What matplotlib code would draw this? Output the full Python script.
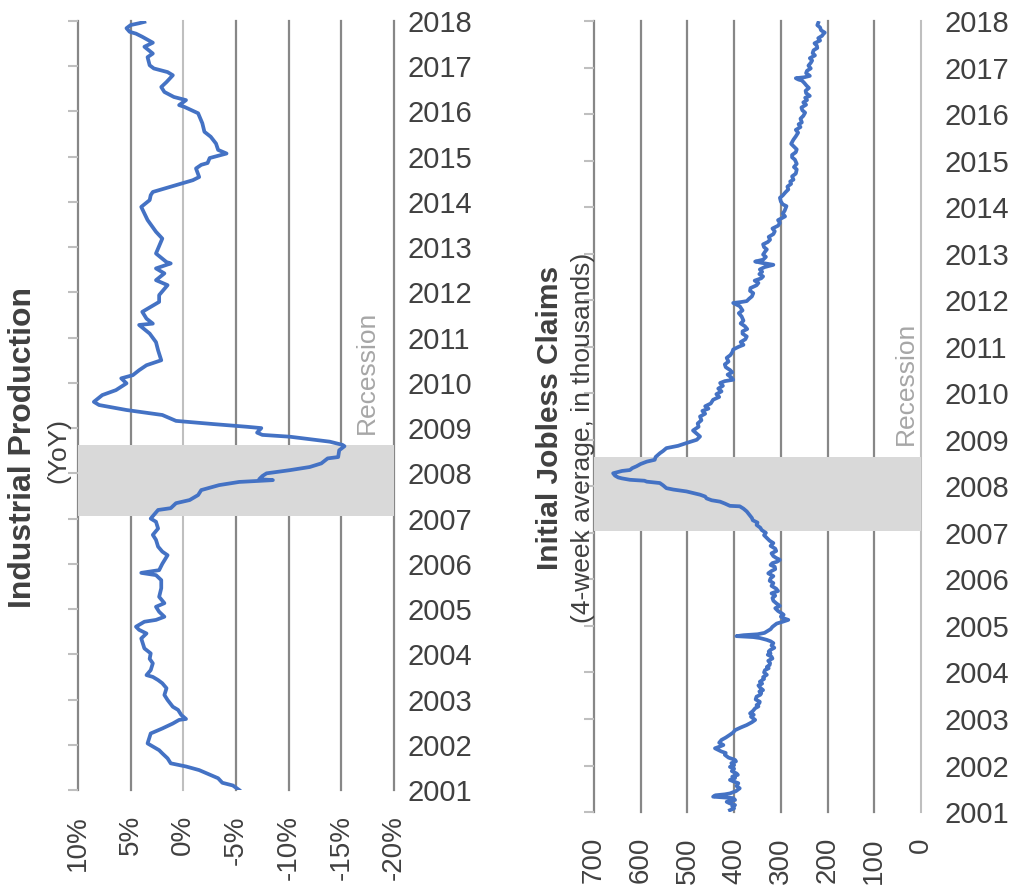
import matplotlib
matplotlib.use("Agg")
import matplotlib.pyplot as plt

plt.rcParams['font.family'] = ['Liberation Sans', 'DejaVu Sans']

# Industrial production, year-over-year % change
ip_year = [2001.0, 2001.1, 2001.16, 2001.26, 2001.33, 2001.44, 2001.52, 2001.59, 2001.7, 2001.81,
           2001.88, 2001.99, 2002.03, 2002.25, 2002.36, 2002.47, 2002.55, 2002.57, 2002.66, 2002.77,
           2002.84, 2002.99, 2003.1, 2003.25, 2003.36, 2003.43, 2003.5, 2003.54, 2003.65, 2003.8,
           2003.9, 2004.02, 2004.13, 2004.35, 2004.46, 2004.54, 2004.61, 2004.72, 2004.76, 2004.83,
           2004.94, 2005.05, 2005.13, 2005.27, 2005.46, 2005.64, 2005.75, 2005.8, 2005.86, 2006.0,
           2006.19, 2006.27, 2006.38, 2006.53, 2006.64, 2006.78, 2006.93, 2007.0, 2007.19, 2007.23,
           2007.34, 2007.41, 2007.52, 2007.63, 2007.74, 2007.81, 2007.85, 2007.87, 2007.94, 2008.0,
           2008.07, 2008.14, 2008.22, 2008.33, 2008.36, 2008.51, 2008.6, 2008.63, 2008.7, 2008.81,
           2008.85, 2008.9, 2009.0, 2009.03, 2009.09, 2009.16, 2009.29, 2009.4, 2009.51, 2009.58,
           2009.73, 2009.84, 2009.99, 2010.1, 2010.17, 2010.28, 2010.39, 2010.5, 2010.72, 2010.9,
           2011.09, 2011.28, 2011.31, 2011.42, 2011.57, 2011.68, 2011.79, 2011.94, 2012.16, 2012.27,
           2012.42, 2012.53, 2012.64, 2012.67, 2012.86, 2013.19, 2013.34, 2013.6, 2013.89, 2014.04,
           2014.15, 2014.22, 2014.37, 2014.48, 2014.55, 2014.74, 2014.82, 2014.86, 2014.97, 2015.07,
           2015.15, 2015.29, 2015.44, 2015.55, 2015.74, 2015.96, 2016.1, 2016.14, 2016.25, 2016.32,
           2016.43, 2016.54, 2016.65, 2016.8, 2016.87, 2016.95, 2017.02, 2017.2, 2017.28, 2017.43,
           2017.52, 2017.65, 2017.72, 2017.76, 2017.84, 2017.91, 2017.95, 2017.98]
ip_value = [-5.3, -4.7, -3.7, -3.3, -2.6, -1.5, -0.25, 1.2, 1.5, 2.0,
            2.3, 3.1, 3.4, 3.1, 2.0, 1.0, 0.4, -0.25, 0.2, 0.5,
            1.0, 1.5, 1.8, 1.6, 2.0, 2.4, 2.9, 3.5, 3.1, 2.9,
            3.2, 3.1, 3.7, 4.0, 3.5, 4.2, 4.5, 3.7, 2.6, 1.8,
            2.3, 2.6, 1.8, 2.3, 2.1, 2.1, 2.6, 4.0, 2.3, 2.0,
            1.5, 2.0, 2.4, 2.6, 2.9, 2.4, 2.6, 3.1, 2.4, 1.2,
            0.7, -0.6, -1.4, -1.7, -3.4, -5.3, -8.5, -7.2, -7.5, -7.9,
            -10.1, -12.0, -13.1, -13.7, -14.7, -14.8, -15.3, -15.1, -13.9, -10.1,
            -7.5, -7.0, -7.4, -6.0, -2.8, 0.7, 2.0, 5.4, 8.0, 8.5,
            7.7, 6.4, 5.4, 5.9, 4.8, 4.2, 3.5, 2.1, 2.4, 2.6,
            3.2, 4.2, 2.9, 3.5, 3.9, 3.1, 2.3, 2.3, 1.5, 2.6,
            1.8, 2.6, 1.2, 1.6, 2.6, 2.0, 2.6, 3.4, 4.0, 3.2,
            3.1, 2.9, 0.7, -0.9, -1.5, -1.2, -1.7, -2.3, -2.5, -4.1,
            -3.3, -3.1, -2.6, -2.0, -1.8, -1.4, -0.1, 0.4, -0.25, 0.9,
            1.8, 2.1, 1.6, 1.0, 1.5, 2.8, 3.2, 3.4, 2.9, 3.7,
            2.9, 3.9, 4.5, 5.1, 5.4, 5.0, 4.2, 3.7]

# Initial jobless claims, 4-week average (thousands), weekly readings
jc_year = [2001.04, 2001.08, 2001.12, 2001.15, 2001.19, 2001.22, 2001.26, 2001.30, 2001.33, 2001.36,
           2001.38, 2001.40, 2001.45, 2001.51, 2001.56, 2001.62, 2001.66, 2001.69, 2001.73, 2001.76,
           2001.80, 2001.83, 2001.88, 2001.93, 2001.97, 2002.01, 2002.05, 2002.09, 2002.12, 2002.17,
           2002.23, 2002.27, 2002.30, 2002.34, 2002.37, 2002.41, 2002.44, 2002.49, 2002.55, 2002.60,
           2002.66, 2002.71, 2002.76, 2002.82, 2002.87, 2002.93, 2002.98, 2003.02, 2003.05, 2003.09,
           2003.12, 2003.17, 2003.23, 2003.27, 2003.30, 2003.34, 2003.37, 2003.42, 2003.48, 2003.52,
           2003.55, 2003.59, 2003.62, 2003.67, 2003.72, 2003.76, 2003.80, 2003.86, 2003.90, 2003.95,
           2004.00, 2004.05, 2004.09, 2004.12, 2004.16, 2004.20, 2004.25, 2004.30, 2004.34, 2004.38,
           2004.41, 2004.45, 2004.48, 2004.53, 2004.58, 2004.63, 2004.67, 2004.70, 2004.74, 2004.76,
           2004.78, 2004.80, 2004.82, 2004.85, 2004.88, 2004.93, 2004.98, 2005.05, 2005.09, 2005.13,
           2005.17, 2005.20, 2005.24, 2005.27, 2005.32, 2005.38, 2005.43, 2005.48, 2005.54, 2005.60,
           2005.65, 2005.70, 2005.75, 2005.80, 2005.86, 2005.92, 2005.97, 2006.02, 2006.07, 2006.13,
           2006.18, 2006.22, 2006.27, 2006.31, 2006.35, 2006.38, 2006.42, 2006.46, 2006.50, 2006.56,
           2006.61, 2006.66, 2006.72, 2006.78, 2006.83, 2006.89, 2006.95, 2007.00, 2007.06, 2007.11,
           2007.17, 2007.22, 2007.27, 2007.32, 2007.37, 2007.42, 2007.46, 2007.52, 2007.57, 2007.58,
           2007.63, 2007.67, 2007.70, 2007.74, 2007.78, 2007.82, 2007.86, 2007.89, 2007.93, 2007.96,
           2008.02, 2008.07, 2008.10, 2008.12, 2008.14, 2008.17, 2008.19, 2008.23, 2008.28, 2008.31,
           2008.33, 2008.35, 2008.39, 2008.43, 2008.48, 2008.53, 2008.57, 2008.63, 2008.71, 2008.76,
           2008.82, 2008.87, 2008.93, 2009.00, 2009.07, 2009.13, 2009.20, 2009.28, 2009.35, 2009.42,
           2009.50, 2009.56, 2009.62, 2009.67, 2009.72, 2009.78, 2009.86, 2009.92, 2009.98, 2010.04,
           2010.10, 2010.16, 2010.22, 2010.26, 2010.29, 2010.34, 2010.40, 2010.45, 2010.50, 2010.56,
           2010.62, 2010.68, 2010.76, 2010.82, 2010.88, 2010.94, 2011.00, 2011.04, 2011.10, 2011.16,
           2011.22, 2011.28, 2011.33, 2011.38, 2011.44, 2011.50, 2011.56, 2011.65, 2011.72, 2011.78,
           2011.87, 2011.94, 2011.96, 2011.98, 2012.03, 2012.08, 2012.15, 2012.20, 2012.26, 2012.32,
           2012.37, 2012.42, 2012.47, 2012.51, 2012.56, 2012.61, 2012.66, 2012.71, 2012.76, 2012.80,
           2012.83, 2012.87, 2012.93, 2012.98, 2013.04, 2013.09, 2013.14, 2013.20, 2013.25, 2013.30,
           2013.36, 2013.42, 2013.48, 2013.54, 2013.60, 2013.66, 2013.72, 2013.80, 2013.86, 2013.92,
           2014.02, 2014.06, 2014.12, 2014.20, 2014.25, 2014.32, 2014.38, 2014.44, 2014.50, 2014.55,
           2014.59, 2014.66, 2014.72, 2014.81, 2014.86, 2014.93, 2015.02, 2015.07, 2015.12, 2015.18,
           2015.24, 2015.30, 2015.36, 2015.45, 2015.52, 2015.60, 2015.66, 2015.72, 2015.78, 2015.82,
           2015.90, 2015.96, 2016.03, 2016.08, 2016.14, 2016.20, 2016.25, 2016.30, 2016.35, 2016.39,
           2016.45, 2016.50, 2016.56, 2016.61, 2016.67, 2016.72, 2016.74, 2016.77, 2016.79, 2016.82,
           2016.88, 2016.93, 2016.98, 2017.04, 2017.10, 2017.15, 2017.20, 2017.26, 2017.31, 2017.37,
           2017.42, 2017.47, 2017.52, 2017.58, 2017.63, 2017.68, 2017.72, 2017.75, 2017.80, 2017.86,
           2017.91, 2017.96]
jc_value = [409, 400, 404, 398, 410, 416, 398, 402, 445, 440,
            420, 409, 396, 388, 395, 391, 402, 409, 398, 404,
            392, 395, 405, 400, 409, 400, 406, 396, 398, 412,
            420, 418, 427, 435, 441, 430, 423, 432, 427, 418,
            409, 402, 398, 385, 373, 362, 355, 360, 364, 358,
            366, 360, 355, 348, 352, 346, 345, 354, 352, 344,
            342, 346, 338, 344, 348, 340, 345, 336, 338, 330,
            336, 334, 326, 330, 324, 323, 327, 318, 320, 328,
            322, 326, 323, 314, 320, 316, 322, 330, 345, 359,
            395, 380, 350, 335, 330, 322, 318, 309, 296, 284,
            296, 300, 294, 298, 306, 312, 302, 309, 316, 318,
            312, 320, 306, 310, 320, 316, 324, 322, 316, 327,
            320, 312, 313, 322, 318, 308, 302, 310, 316, 320,
            310, 312, 322, 316, 324, 330, 336, 332, 341, 344,
            352, 350, 360, 362, 366, 370, 373, 380, 388, 409,
            420, 430, 448, 459, 462, 473, 490, 502, 530, 545,
            552, 559, 587, 592, 623, 640, 648, 655, 659, 648,
            640, 623, 618, 609, 600, 587, 570, 568, 559, 552,
            545, 520, 502, 480, 473, 480, 488, 476, 478, 470,
            473, 462, 468, 455, 462, 450, 445, 432, 438, 427,
            434, 424, 430, 420, 402, 406, 414, 404, 409, 418,
            420, 412, 416, 408, 404, 402, 390, 380, 386, 376,
            373, 382, 382, 372, 377, 386, 380, 384, 390, 382,
            388, 402, 385, 373, 368, 362, 359, 366, 365, 352,
            348, 356, 342, 338, 346, 340, 345, 335, 316, 340,
            355, 338, 332, 338, 334, 330, 336, 338, 328, 323,
            326, 316, 313, 318, 306, 302, 306, 291, 296, 292,
            288, 296, 300, 302, 296, 290, 284, 286, 278, 280,
            273, 276, 268, 266, 272, 266, 270, 276, 276, 268,
            266, 272, 278, 273, 268, 263, 268, 258, 262, 255,
            258, 252, 248, 254, 256, 246, 252, 244, 248, 238,
            246, 247, 240, 245, 250, 255, 262, 268, 250, 238,
            246, 244, 236, 241, 236, 233, 238, 227, 232, 230,
            222, 223, 228, 216, 220, 212, 209, 206, 214, 216,
            222, 220]

ip_ticks = [10, 5, 0, -5, -10, -15, -20]
ip_labels = ['10%', '5%', '0%', '-5%', '-10%', '-15%', '-20%']
jc_ticks = [700, 600, 500, 400, 300, 200, 100, 0]
jc_labels = ['700', '600', '500', '400', '300', '200', '100', '0']
years = list(range(2001, 2019))
recession = (2007.05, 2008.63)

blue = '#4472C4'
grid_col = '#878787'
axis_col = '#bfbfbf'
text_col = '#404040'

fig = plt.figure(figsize=(10.11, 8.96), dpi=100)
ax1 = fig.add_axes([0.0772, 0.1183, 0.3125, 0.8583])
ax2 = fig.add_axes([0.5875, 0.0937, 0.3235, 0.8829])


def setup(ax, ticks, labels, xlim, rec_x, year_pad):
    ax.set_xlim(xlim)
    ax.set_ylim(2001, 2018)
    ax.set_xticks(ticks)
    ax.set_xticklabels(labels, rotation=90, fontsize=20, color=text_col)
    ax.tick_params(axis='x', length=0, pad=18)
    ax.grid(axis='x', color=grid_col, linewidth=1.6)
    for t, gl in zip(ticks, ax.get_xgridlines()):
        gl.set_clip_on(False)
        if t == 0:
            gl.set_visible(False)
    for s in ['top', 'bottom', 'left']:
        ax.spines[s].set_visible(False)
    # category axis sits on the zero line
    ax.spines['right'].set_position(('data', 0))
    ax.spines['right'].set_color(axis_col)
    ax.spines['right'].set_linewidth(1.5)
    ax.yaxis.tick_right()
    ax.set_yticks(years)
    ax.tick_params(axis='y', direction='out', length=7, width=1.5,
                   color=axis_col, labelright=False)
    ax.axhspan(recession[0], recession[1], color='#d9d9d9', zorder=3, linewidth=0)
    ax.text(rec_x, recession[1] + 0.25, 'Recession', rotation=90, fontsize=19,
            color='#a6a6a6', ha='right', va='bottom', zorder=5)

    yl = ax.twinx()
    yl.set_ylim(2001, 2018)
    yl.set_yticks(years)
    yl.set_yticklabels([str(y) for y in years], fontsize=21, color=text_col)
    yl.tick_params(axis='y', length=0, pad=year_pad)
    for s in yl.spines.values():
        s.set_visible(False)


setup(ax1, ip_ticks, ip_labels, (10, -20), -18.6, 10)
setup(ax2, jc_ticks, jc_labels, (700, 0), 6, 17)
ax1.plot(ip_value, ip_year, color=blue, linewidth=2.7, zorder=4, solid_joinstyle='round')
ax2.plot(jc_value, jc_year, color=blue, linewidth=2.7, zorder=4, solid_joinstyle='round')

fig.text(0.023, 0.5, 'Industrial Production', rotation=90, fontsize=23,
         fontweight='bold', color=text_col, ha='center', va='center')
fig.text(0.058, 0.497, '(YoY)', rotation=90, fontsize=19, color=text_col,
         ha='center', va='center')
fig.text(0.544, 0.533, 'Initial Jobless Claims', rotation=90, fontsize=21.5,
         fontweight='bold', color=text_col, ha='center', va='center')
fig.text(0.577, 0.511, '(4-week average, in thousands)', rotation=90, fontsize=19,
         color=text_col, ha='center', va='center')

fig.savefig('out.png', dpi=100)
